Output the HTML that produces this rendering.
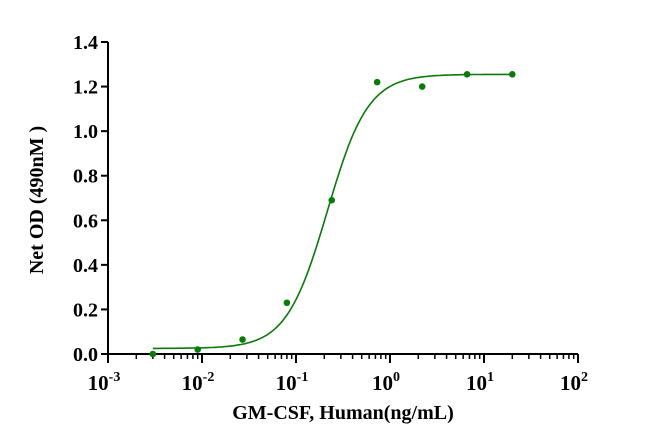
<!DOCTYPE html>
<html><head><meta charset="utf-8"><style>
body{margin:0;background:#fff}
svg{display:block;font-family:"Liberation Serif",serif;font-weight:bold}
</style></head><body>
<svg id="c" width="650" height="443"></svg>
<script>
const xs=[0.003,0.009,0.027,0.08,0.24,0.73,2.2,6.6,20];
const ys=[0.0,0.02,0.065,0.23,0.69,1.22,1.2,1.255,1.255];
const fitParams=[0.025,1.255,0.215,2.0]; // bottom, top, EC50, hill
const yTicks=[0,0.2,0.4,0.6,0.8,1.0,1.2,1.4];
const yTickLabels=["0.0","0.2","0.4","0.6","0.8","1.0","1.2","1.4"];
const xDecades=[-3,-2,-1,0,1,2];
const NS="http://www.w3.org/2000/svg";
const svg=document.getElementById('c');
const X0=108,X1=578,Y0=354,Y1=42;
const xS=v=>X0+(Math.log10(v)+3)/5*(X1-X0);
const yS=v=>Y0-v/1.4*(Y0-Y1);
function mk(t,a){const e=document.createElementNS(NS,t);for(const k in a)e.setAttribute(k,a[k]);svg.appendChild(e);return e;}
let e;
e=mk('line',{x1:X0,y1:Y0,x2:X1,y2:Y0,stroke:'#000','stroke-width':2});


e=mk('line',{x1:X0,y1:Y0+1,x2:X0,y2:Y1,stroke:'#000','stroke-width':2});


yTicks.forEach((v,i)=>{
 mk('line',{x1:X0-7,x2:X0,y1:yS(v),y2:yS(v),stroke:'#000','stroke-width':2});
 e=mk('text',{x:X0-10,y:yS(v)+7,'text-anchor':'end','font-size':20});
 e.textContent=yTickLabels[i];
 
 
});
xDecades.forEach(d=>{
 const px=xS(Math.pow(10,d));
 mk('line',{x1:px,x2:px,y1:Y0,y2:Y0+9,stroke:'#000','stroke-width':2});
 if(d<2)for(let m=2;m<10;m++){const q=xS(m*Math.pow(10,d));mk('line',{x1:q,x2:q,y1:Y0,y2:Y0+5,stroke:'#000','stroke-width':1.5});}
 e=mk('text',{x:px-4,y:Y0+36,'text-anchor':'middle','font-size':21});
 e.innerHTML='10<tspan dy="-9" font-size="14">'+d+'</tspan>';
 
 
});
const [b,t,ec,h]=fitParams;
let d='';
for(let i=0;i<=200;i++){const lx=Math.log10(xs[0])+i/200*(Math.log10(xs[xs.length-1])-Math.log10(xs[0]));const x=Math.pow(10,lx);const y=b+(t-b)/(1+Math.pow(ec/x,h));d+=(i?'L':'M')+xS(x).toFixed(1)+','+yS(y).toFixed(1);}
e=mk('path',{d:d,fill:'none',stroke:'#0a7a0a','stroke-width':1.6});


xs.forEach((x,i)=>{
 e=mk('circle',{cx:xS(x),cy:yS(ys[i]),r:3.3,fill:'#0a7a0a'});
 
 
});
e=mk('text',{x:343,y:419,'text-anchor':'middle','font-size':20});
e.textContent='GM-CSF, Human(ng/mL)';


e=mk('text',{x:0,y:0,'text-anchor':'middle','font-size':20,transform:'translate(43,200) rotate(-90)'});
e.textContent='Net OD (490nM )';


</script>
</body></html>
